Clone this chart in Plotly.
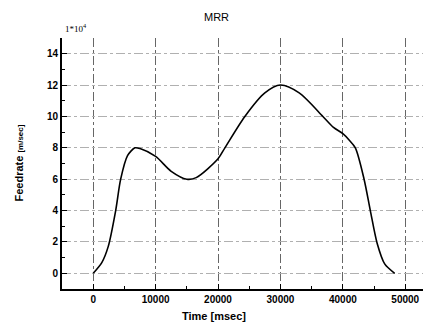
import plotly.graph_objects as go

time_ms = [0, 1400, 2400, 3600, 4400, 5500, 6700, 7500, 10000, 12500, 15000, 16500,
           20000, 21100, 24300, 27500, 30000, 33000, 36800, 38500, 40000, 41000, 42000,
           43400, 44400, 45500, 46700, 48300]
feedrate = [0.0, 0.7, 1.7, 4.0, 6.0, 7.5, 8.0, 7.95, 7.45, 6.5, 6.0, 6.1,
            7.3, 8.0, 10.0, 11.5, 12.0, 11.5, 10.0, 9.3, 8.9, 8.5, 8.0,
            6.0, 4.0, 1.9, 0.6, 0.0]

x_ticks = [0, 10000, 20000, 30000, 40000, 50000]
y_ticks = [0, 2, 4, 6, 8, 10, 12, 14]

font_main = "Liberation Sans, Arial, sans-serif"

fig = go.Figure()
fig.add_trace(go.Scatter(x=time_ms, y=feedrate, mode="lines",
                         line=dict(color="black", width=1.6, shape="spline", smoothing=0.8),
                         showlegend=False, hoverinfo="skip"))

fig.update_layout(
    width=423, height=320,
    margin=dict(l=54, r=7, t=30, b=39, autoexpand=False),
    paper_bgcolor="white", plot_bgcolor="white",
    font=dict(family=font_main, color="black"),
    xaxis=dict(range=[-5000, 53000], tickvals=x_ticks, ticktext=[str(v) for v in x_ticks],
               ticks="inside", ticklen=5, tickcolor="black",
               minor=dict(dtick=5000, tick0=0, ticks="inside", ticklen=3, tickcolor="black", showgrid=False),
               showline=True, linecolor="black", linewidth=2, mirror=False,
               showgrid=True, gridcolor="#666666", griddash="dashdot", gridwidth=1,
               zeroline=False, tickfont=dict(size=10, family=font_main, weight="bold")),
    yaxis=dict(range=[-1, 15], tickvals=y_ticks, ticktext=[str(v) for v in y_ticks],
               ticks="inside", ticklen=5, tickcolor="black",
               minor=dict(dtick=1, tick0=0, ticks="inside", ticklen=3, tickcolor="black", showgrid=False),
               showline=True, linecolor="black", linewidth=2, mirror=False,
               showgrid=True, gridcolor="#b0b0b0", griddash="dashdot", gridwidth=1,
               zeroline=False, tickfont=dict(size=10, family=font_main, weight="bold")),
    annotations=[
        dict(text="MRR", xref="paper", yref="paper", x=0.428, y=1.0, yshift=21,
             showarrow=False, font=dict(size=11, family=font_main), xanchor="center", yanchor="middle"),
        dict(text="1*10<sup>4</sup>", xref="paper", yref="paper", x=0.0, y=1.0, xshift=1, yshift=10,
             showarrow=False, font=dict(size=9, family="Liberation Serif, serif"), xanchor="left", yanchor="middle"),
        dict(text="<b>Time [msec]</b>", xref="paper", yref="paper", x=0.42, y=0.0, yshift=-27,
             showarrow=False, font=dict(size=11, family=font_main), xanchor="center", yanchor="middle"),
        dict(text="<b>Feedrate</b> <span style='font-size:8px'><b>[m/sec]</b></span>", xref="paper", yref="paper",
             x=0.0, y=0.5, xshift=-44, textangle=-90,
             showarrow=False, font=dict(size=11, family=font_main), xanchor="center", yanchor="middle"),
    ],
)

fig.write_html("out.html")
